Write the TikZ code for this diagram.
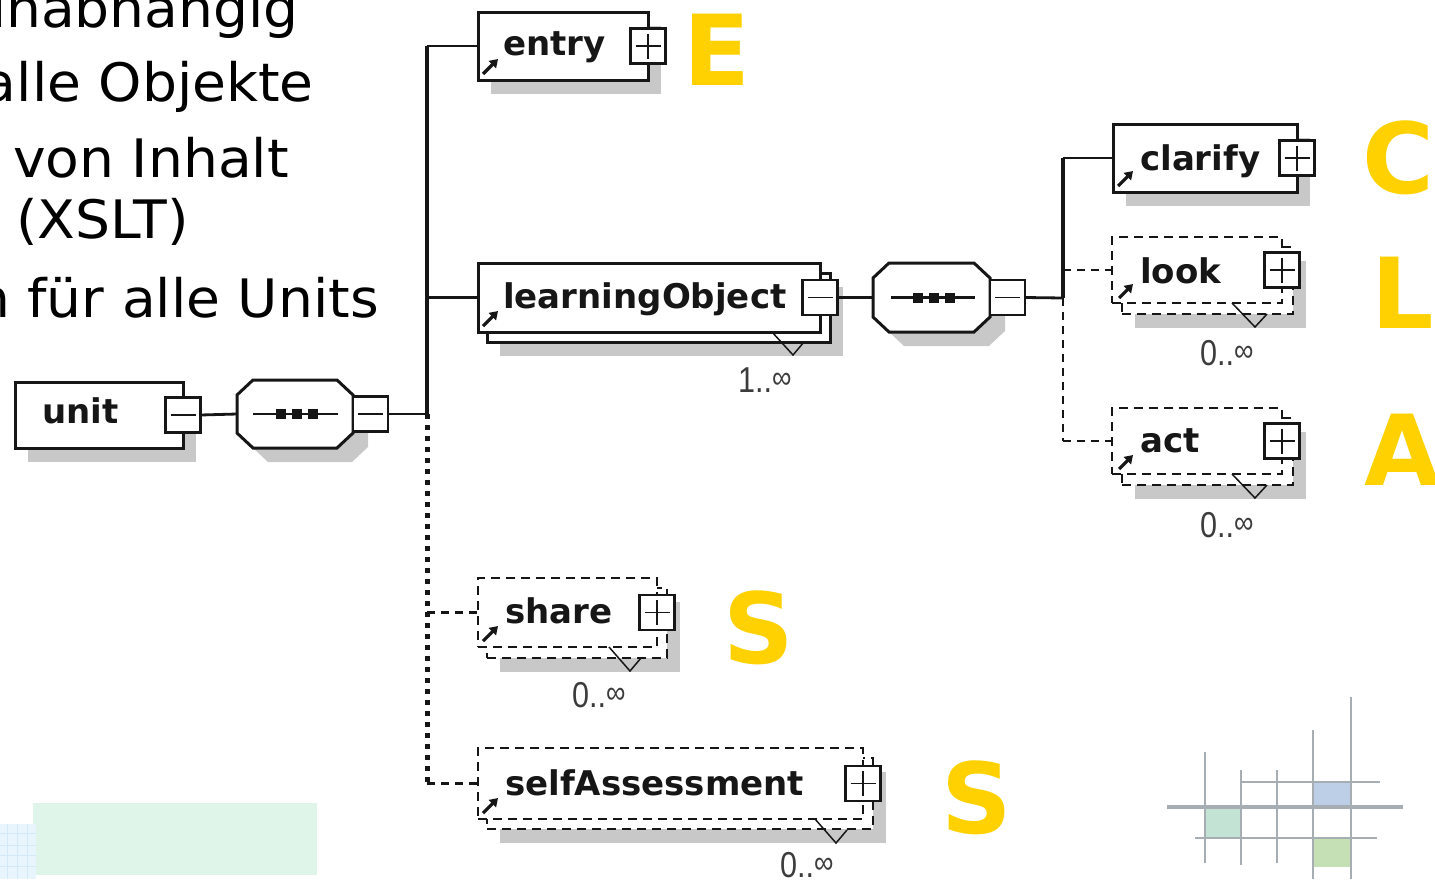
\documentclass[tikz,border=0pt]{standalone}
\usepackage{fontspec}
\setmainfont{DejaVu Sans}
\newfontfamily\slidefont[FakeStretch=1.04]{DejaVu Sans}
\newfontfamily\multfont[FakeStretch=0.85]{Liberation Sans}
\usetikzlibrary{arrows.meta}
\definecolor{ink}{HTML}{161616}
\definecolor{shadowgray}{HTML}{C8C8C8}
\definecolor{yel}{HTML}{FFD100}
\definecolor{multc}{HTML}{3C3C3C}
\definecolor{gridc}{HTML}{A6ADB3}
\definecolor{tileblue}{HTML}{BDCFE6}
\definecolor{tilegreen}{HTML}{C3E4D4}
\definecolor{tilelime}{HTML}{C5E0B4}
\definecolor{mint}{HTML}{E0F5EA}
\definecolor{sky}{HTML}{E8F5FD}
\definecolor{skyline}{HTML}{D3E9F7}
\pgfdeclarelayer{back}
\pgfsetlayers{back,main}
% octagonal "sequence" compositor outline around an (invisible) frame node,
% optionally shifted by (#3,#4)
\newcommand\seqoctagon[4][]{%
  \path[#1] ([shift={(#3+16,#4)}]#2.north west) -- ([shift={(#3-16,#4)}]#2.north east)
    -- ([shift={(#3,#4+15)}]#2.north east) -- ([shift={(#3,#4-15)}]#2.south east)
    -- ([shift={(#3-16,#4)}]#2.south east) -- ([shift={(#3+16,#4)}]#2.south west)
    -- ([shift={(#3,#4-15)}]#2.south west) -- ([shift={(#3,#4+15)}]#2.north west) -- cycle;}
% drop shadow of a box node, offset by (13,14)
\newcommand\boxshadow[1]{%
  \fill[shadowgray] ([shift={(13,14)}]#1.north west) rectangle ([shift={(13,14)}]#1.south east);}
\begin{document}
\begin{tikzpicture}[x=1pt,y=-1pt,
  elbox/.style={draw=ink, fill=white, line width=3pt, inner sep=0pt, outer sep=0pt, anchor=north west},
  optbox/.style={elbox, line width=2.8pt, dash pattern=on 9pt off 6pt},
  seqframe/.style={inner sep=0pt, outer sep=0pt, anchor=north west},
  pmbox/.style={draw=ink, fill=white, line width=2.8pt, minimum width=35pt, minimum height=35pt, inner sep=0pt, outer sep=0pt},
  minus/.style={pmbox, path picture={\draw[ink, line width=1.8pt]
      ([xshift=5pt]path picture bounding box.west) -- ([xshift=-5pt]path picture bounding box.east);}},
  plus/.style={pmbox, path picture={\draw[ink, line width=1.8pt]
      ([xshift=5pt]path picture bounding box.west) -- ([xshift=-5pt]path picture bounding box.east)
      ([yshift=-5pt]path picture bounding box.north) -- ([yshift=5pt]path picture bounding box.south);}},
  eltext/.style={font=\fontsize{34}{34}\selectfont\bfseries, anchor=base west, inner sep=0pt, text=ink},
  mult/.style={font=\multfont\fontsize{36}{36}\selectfont, anchor=base west, inner sep=0pt, text=multc},
  bigletter/.style={font=\fontsize{98}{98}\selectfont\bfseries, anchor=base west, inner sep=0pt, text=yel},
  slide/.style={font=\slidefont\fontsize{53}{53}\selectfont, anchor=base east, inner sep=0pt, text=black},
  conn/.style={draw=ink, line width=2.8pt},
  optconn/.style={conn, dash pattern=on 8pt off 6pt},
  bus/.style={draw=ink, line width=4pt},
  dotbus/.style={draw=ink, line width=5pt, dash pattern=on 5pt off 6pt},
  refarrow/.style={draw=ink, line width=3.2pt, -{Triangle[length=8pt,width=10pt]}},
  occur/.style={draw=ink, line width=1.5pt},
]
\useasboundingbox (0,0) rectangle (1435,879);
\clip (0,0) rectangle (1435,879);

% ---- slide text ----
\node[slide] (l1) at (299,27)  {unabhängig};
\node[slide] (l2) at (314,101) {alle Objekte};
\node[slide, anchor=base west] (l3) at (13,177) {von Inhalt};
\node[slide, anchor=base west] (l4) at (16,238) {(XSLT)};
\node[slide] (l5) at (379,317) {n für alle Units};

% ---- bottom left decoration ----
\fill[mint] (33,803) rectangle (317,875);
\fill[sky] (0,824) rectangle (36,879);
\foreach \gx in {7,17,27} \draw[skyline, line width=0.8pt] (\gx,824) -- (\gx,879);
\foreach \gy in {833,845,855,866} \draw[skyline, line width=0.8pt] (0,\gy) -- (36,\gy);

% ---- bottom right logo ----
\fill[tileblue] (1313,782) rectangle (1351,807);
\fill[tilegreen] (1205,807) rectangle (1241,838);
\fill[tilelime] (1313,838) rectangle (1351,867);
\draw[gridc, line width=4pt] (1167,807) -- (1403,807);
\draw[gridc, line width=2.6pt] (1241,782) -- (1380,782);
\draw[gridc, line width=2.6pt] (1195,838) -- (1377,838);
\draw[gridc, line width=2.6pt] (1205,752) -- (1205,863);
\draw[gridc, line width=2.6pt] (1241,770) -- (1241,865);
\draw[gridc, line width=2.6pt] (1277,770) -- (1277,863);
\draw[gridc, line width=2.6pt] (1313,730) -- (1313,879);
\draw[gridc, line width=2.6pt] (1351,697) -- (1351,879);

% ---- root element and first sequence ----
\node[elbox, minimum width=168pt, minimum height=66pt] (unit) at (15,382) {};
\node[eltext] (unit-t) at (42,423) {unit};
\node[minus] (unit-pm) at (unit.east) {};

\node[seqframe, minimum width=116pt, minimum height=68pt] (seq1) at (237,380) {};
\seqoctagon[draw=ink, fill=white, line width=3pt]{seq1}{0}{0}
\draw[ink, line width=2.4pt] ([xshift=16pt]seq1.west) -- ([xshift=-15pt]seq1.east);
\foreach \dx in {-14,2,18}
  \fill[ink] ([shift={(\dx-5,-5)}]seq1.center) rectangle ([shift={(\dx+5,5)}]seq1.center);
\node[minus, anchor=west] (seq1-pm) at (seq1.east) {};
\coordinate (bus1) at (427,414);

% ---- children of the first sequence ----
\node[elbox, minimum width=170pt, minimum height=68pt] (entry) at (478,12) {};
\node[eltext] (entry-t) at (503,55) {entry};
\node[plus] (entry-pm) at (entry.east) {};
\draw[refarrow] ([shift={(5,-6)}]entry.south west) -- ++(15,-15);

\node[elbox, minimum width=343pt, minimum height=69pt] (learn-back) at (487,273) {};
\node[elbox, minimum width=342pt, minimum height=69pt] (learn) at (478,263) {};
\node[eltext] (learn-t) at (503,308) {learningObject};
\node[minus] (learn-pm) at (learn.east) {};
\draw[refarrow] ([shift={(5,-6)}]learn.south west) -- ++(15,-15);
\draw[occur] ([xshift=-48pt]learn.south east) -- ++(21,23) -- ++(11,-13);
\node[mult] (learn-m) at (738,392) {1..\raisebox{4pt}{\fontsize{32}{32}\selectfont ∞}};

\node[optbox, minimum width=180pt, minimum height=70pt] (share-back) at (487,588) {};
\node[optbox, minimum width=179pt, minimum height=69pt] (share) at (478,578) {};
\node[eltext] (share-t) at (505,623) {share};
\node[plus] (share-pm) at (share.east) {};
\draw[refarrow] ([shift={(5,-6)}]share.south west) -- ++(15,-15);
\draw[occur] ([xshift=-48pt]share.south east) -- ++(21,24) -- ++(11,-13);
\node[mult] (share-m) at (572,707) {0..\raisebox{4pt}{\fontsize{32}{32}\selectfont ∞}};

\node[optbox, minimum width=386pt, minimum height=71pt] (self-back) at (487,758) {};
\node[optbox, minimum width=385pt, minimum height=71pt] (self) at (478,748) {};
\node[eltext] (self-t) at (505,795) {selfAssessment};
\node[plus] (self-pm) at (self.east) {};
\draw[refarrow] ([shift={(5,-6)}]self.south west) -- ++(15,-15);
\draw[occur] ([xshift=-48pt]self.south east) -- ++(21,24) -- ++(11,-13);
\node[mult] (self-m) at (780,877) {0..\raisebox{4pt}{\fontsize{32}{32}\selectfont ∞}};

% ---- second sequence ----
\node[seqframe, minimum width=117pt, minimum height=69pt] (seq2) at (873,263) {};
\seqoctagon[draw=ink, fill=white, line width=3pt]{seq2}{0}{0}
\draw[ink, line width=2.4pt] ([xshift=18pt]seq2.west) -- ([xshift=-15pt]seq2.east);
\foreach \dx in {-14,2,18}
  \fill[ink] ([shift={(\dx-5,-5)}]seq2.center) rectangle ([shift={(\dx+5,5)}]seq2.center);
\node[minus, anchor=west] (seq2-pm) at (seq2.east) {};
\coordinate (bus2) at (1063,298);

% ---- children of the second sequence ----
\node[elbox, minimum width=184pt, minimum height=68pt] (clarify) at (1113,124) {};
\node[eltext] (clarify-t) at (1140,170) {clarify};
\node[plus] (clarify-pm) at (clarify.east) {};
\draw[refarrow] ([shift={(5,-6)}]clarify.south west) -- ++(15,-15);

\node[optbox, minimum width=171pt, minimum height=67pt] (look-back) at (1122,247) {};
\node[optbox, minimum width=170pt, minimum height=66pt] (look) at (1112,237) {};
\node[eltext] (look-t) at (1140,283) {look};
\node[plus] (look-pm) at (look.east) {};
\draw[refarrow] ([shift={(7,-5)}]look.south west) -- ++(14,-14);
\draw[occur] ([xshift=-50pt]look.south east) -- ++(23,24) -- ++(12,-13);
\node[mult] (look-m) at (1200,365) {0..\raisebox{4pt}{\fontsize{32}{32}\selectfont ∞}};

\node[optbox, minimum width=171pt, minimum height=67pt] (act-back) at (1122,418) {};
\node[optbox, minimum width=170pt, minimum height=66pt] (act) at (1112,408) {};
\node[eltext] (act-t) at (1140,452) {act};
\node[plus] (act-pm) at (act.east) {};
\draw[refarrow] ([shift={(7,-5)}]act.south west) -- ++(14,-14);
\draw[occur] ([xshift=-50pt]act.south east) -- ++(23,24) -- ++(12,-13);
\node[mult] (act-m) at (1200,537) {0..\raisebox{4pt}{\fontsize{32}{32}\selectfont ∞}};

% ---- capital markers ----
\node[bigletter] (E)  at (683,85)   {E};
\node[bigletter] (C)  at (1362,193) {C};
\node[bigletter] (L)  at (1371,328) {L};
\node[bigletter] (A)  at (1364,485) {A};
\node[bigletter] (S1) at (723,663)  {S};
\node[bigletter] (S2) at (941,833)  {S};

% ---- shadows and connectors, behind the boxes ----
\begin{pgfonlayer}{back}
  \boxshadow{unit}
  \seqoctagon[fill=shadowgray]{seq1}{15}{14}
  \boxshadow{entry}
  \boxshadow{learn-back}
  \boxshadow{share-back}
  \boxshadow{self-back}
  \seqoctagon[fill=shadowgray]{seq2}{15}{14}
  \boxshadow{clarify}
  \boxshadow{look-back}
  \boxshadow{act-back}

  \draw[conn] (unit-pm.east) -- (seq1.west);
  \draw[conn] (seq1-pm.east) -- (bus1);
  \draw[bus] (bus1 |- entry.west) -- (bus1);
  \draw[dotbus] (bus1) -- (bus1 |- self.west);
  \draw[conn] (bus1 |- entry.west) -- (entry.west);
  \draw[conn] (bus1 |- learn.west) -- (learn.west);
  \draw[optconn] (bus1 |- share.west) -- (share.west);
  \draw[optconn] (bus1 |- self.west) -- (self.west);

  \draw[conn] (learn-pm.east) -- (seq2.west);
  \draw[conn] (seq2-pm.east) -- (bus2);
  \draw[bus, line width=3.4pt] (bus2 |- clarify.west) -- (bus2);
  \draw[optconn] (bus2) -- (bus2 |- act.west);
  \draw[conn] (bus2 |- clarify.west) -- (clarify.west);
  \draw[optconn] (bus2 |- look.west) -- (look.west);
  \draw[optconn] (bus2 |- act.west) -- (act.west);
\end{pgfonlayer}
\end{tikzpicture}
\end{document}
